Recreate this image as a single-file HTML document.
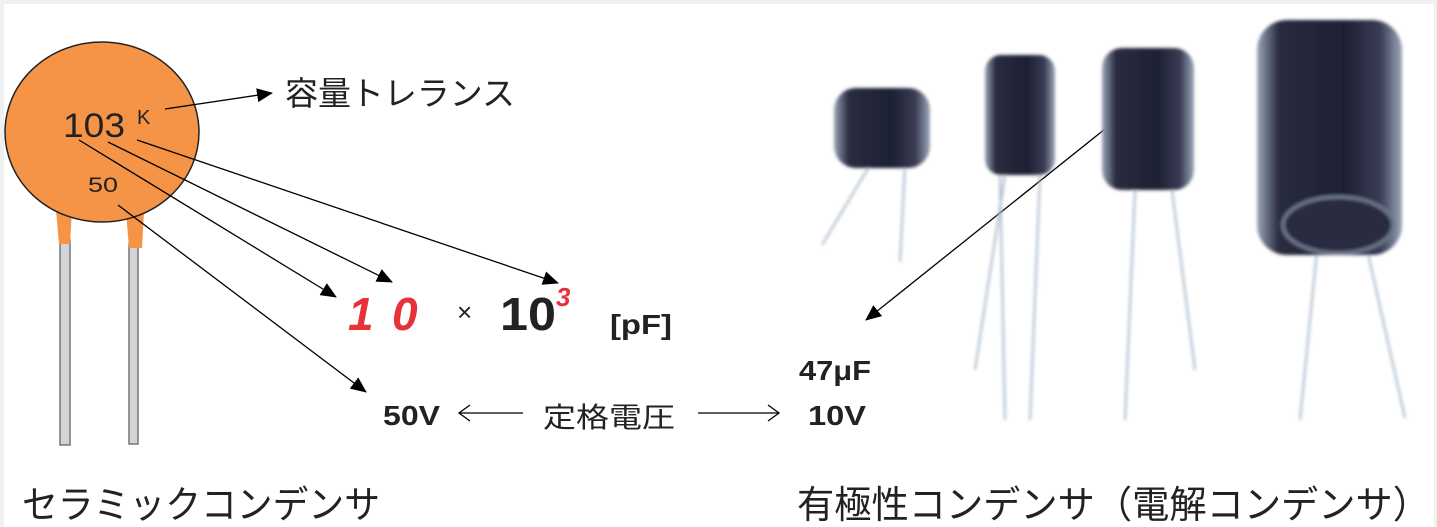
<!DOCTYPE html>
<html><head><meta charset="utf-8"><style>
html,body{margin:0;padding:0;background:#f0f0f0;}
svg{display:block;}
text{font-family:"Liberation Sans","Noto Sans CJK JP",sans-serif;}
</style></head><body>
<svg width="1437" height="527" viewBox="0 0 1437 527" xmlns="http://www.w3.org/2000/svg">
<defs>
<marker id="ah" markerWidth="16" markerHeight="14" refX="15" refY="7" orient="auto" markerUnits="userSpaceOnUse" viewBox="0 0 16 14"><path d="M0,0 L16,7 L0,14 z" fill="#000"/></marker>
<linearGradient id="cap" x1="0" x2="1" y1="0" y2="0">
<stop offset="0" stop-color="#9aa6b8"/><stop offset="0.15" stop-color="#2a2c40"/><stop offset="0.6" stop-color="#1e1f33"/><stop offset="0.85" stop-color="#3a3c55"/><stop offset="1" stop-color="#9aa6b8"/>
</linearGradient>
<filter id="bl"><feGaussianBlur stdDeviation="1.5"/></filter>
</defs>
<rect x="4" y="4" width="1430" height="523" fill="#fff"/>
<!-- ceramic capacitor -->
<rect x="60" y="240" width="10" height="205" fill="#d4d4d6" stroke="#777" stroke-width="1.5"/>
<rect x="129" y="244" width="9" height="200" fill="#d4d4d6" stroke="#777" stroke-width="1.5"/>
<polygon points="56,210 72,210 70,244 59,244" fill="#f59446"/>
<polygon points="126,212 144,212 142,248 129,248" fill="#f59446"/>
<ellipse cx="102" cy="132" rx="97" ry="90" fill="#f59446" stroke="#222" stroke-width="1.5"/>
<text x="63" y="137" font-size="34" fill="#222" textLength="62" lengthAdjust="spacingAndGlyphs">103</text>
<text x="137" y="124" font-size="20" fill="#222">K</text>
<text x="88" y="192" font-size="21" fill="#222" textLength="30" lengthAdjust="spacingAndGlyphs">50</text>
<g stroke="#000" stroke-width="1.3" fill="none" marker-end="url(#ah)">
<line x1="165" y1="109" x2="272" y2="93"/>
<line x1="79" y1="140" x2="336" y2="297"/>
<line x1="108" y1="142" x2="392" y2="282"/>
<line x1="137" y1="140" x2="558" y2="283"/>
<line x1="118" y1="205" x2="366" y2="392"/>
<line x1="1125" y1="113" x2="866" y2="320"/>
</g>
<g stroke="#000" stroke-width="1.3" fill="none">
<line x1="523" y1="413" x2="459" y2="413"/><polyline points="470,405 459,413 470,421"/>
<line x1="698" y1="413" x2="779" y2="413"/><polyline points="768,405 779,413 768,421"/>
</g>
<text x="285" y="105" font-size="33" fill="#222" textLength="230" lengthAdjust="spacingAndGlyphs">容量トレランス</text>
<text x="348" y="330" font-size="46" font-weight="bold" font-style="italic" fill="#e8323a">1</text>
<text x="392" y="330" font-size="46" font-weight="bold" font-style="italic" fill="#e8323a">0</text>
<text x="457" y="321" font-size="26" fill="#222">×</text>
<text x="500" y="330" font-size="46" font-weight="bold" fill="#222" textLength="56" lengthAdjust="spacingAndGlyphs">10</text>
<text x="556" y="306" font-size="26" font-weight="bold" font-style="italic" fill="#e8323a">3</text>
<text x="610" y="334" font-size="28" font-weight="bold" fill="#222" textLength="62" lengthAdjust="spacingAndGlyphs">[pF]</text>
<text x="383" y="425" font-size="28" font-weight="bold" fill="#222" textLength="57" lengthAdjust="spacingAndGlyphs">50V</text>
<text x="543" y="427" font-size="28" fill="#222" textLength="132" lengthAdjust="spacingAndGlyphs">定格電圧</text>
<text x="799" y="380" font-size="28" font-weight="bold" fill="#222" textLength="72" lengthAdjust="spacingAndGlyphs">47μF</text>
<text x="808" y="425" font-size="28" font-weight="bold" fill="#222" textLength="58" lengthAdjust="spacingAndGlyphs">10V</text>
<!-- electrolytic capacitors -->
<g filter="url(#bl)">
<g stroke="#a8b8c8" stroke-width="2" fill="none">
<line x1="870" y1="165" x2="822" y2="245"/><line x1="905" y1="165" x2="900" y2="262"/>
<line x1="1005" y1="175" x2="975" y2="370"/><line x1="1000" y1="175" x2="1005" y2="420"/>
<line x1="1040" y1="175" x2="1030" y2="420"/>
<line x1="1135" y1="190" x2="1125" y2="420"/><line x1="1172" y1="190" x2="1195" y2="370"/>
<line x1="1318" y1="240" x2="1300" y2="420"/><line x1="1365" y1="240" x2="1405" y2="418"/>
</g>
<rect x="834" y="88" width="96" height="80" rx="22" fill="url(#cap)"/>
<rect x="985" y="55" width="70" height="120" rx="16" fill="url(#cap)"/>
<rect x="1102" y="48" width="92" height="142" rx="20" fill="url(#cap)"/>
<rect x="1257" y="20" width="145" height="235" rx="30" fill="url(#cap)"/>
<ellipse cx="1338" cy="225" rx="55" ry="28" fill="#2a2c40" stroke="#6a7488" stroke-width="4"/>
</g>
<text x="22" y="518" font-size="38" fill="#222" textLength="358" lengthAdjust="spacingAndGlyphs">セラミックコンデンサ</text>
<text x="797" y="518" font-size="38" fill="#222" textLength="633" lengthAdjust="spacingAndGlyphs">有極性コンデンサ（電解コンデンサ）</text>
</svg>
</body></html>
